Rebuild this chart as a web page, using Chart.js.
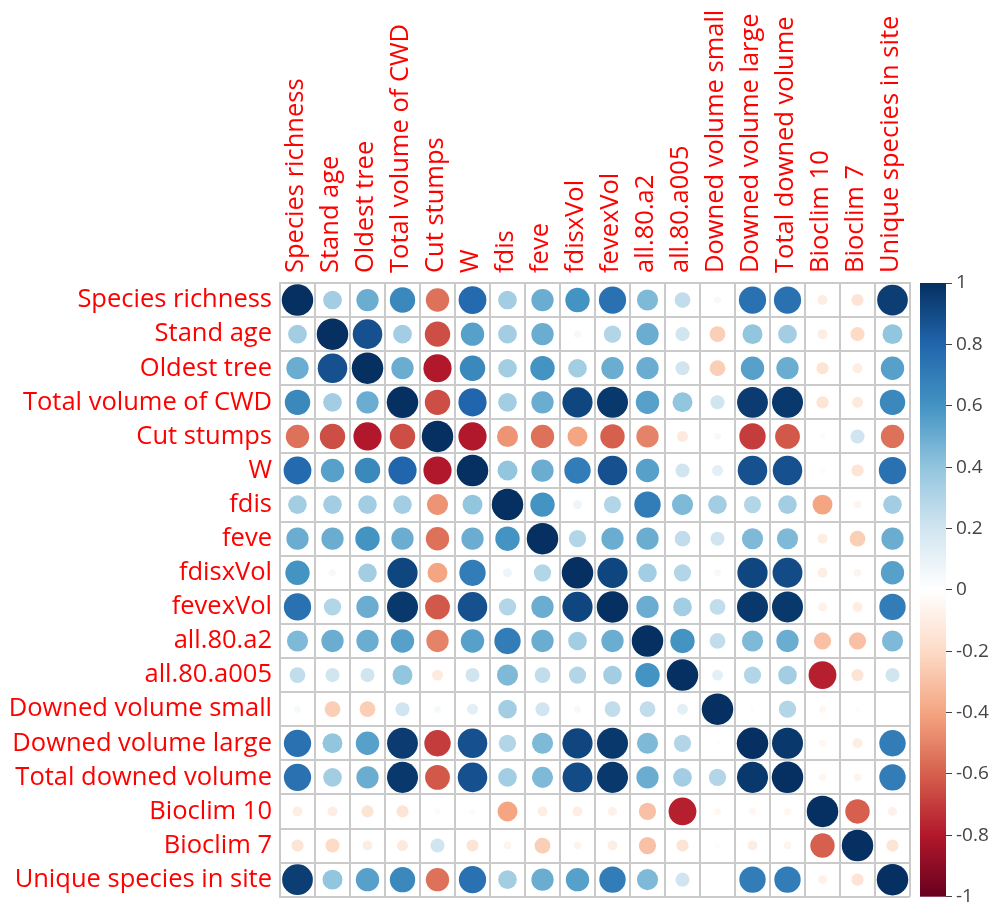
<!DOCTYPE html>
<html lang="en">
<head>
    <meta charset="UTF-8">
    <title>Correlation matrix</title>
    <script src="https://cdn.jsdelivr.net/npm/chart.js"></script>
    <style>
        body { margin: 0; background: #fff; }
        #wrap { width: 993px; height: 920px; }
    </style>
</head>
<body>
    <div id="wrap">
        <canvas id="corrChart"></canvas>
    </div>
    <script>
        // variable names (same order for rows and columns)
        const vars = ['Species richness', 'Stand age', 'Oldest tree', 'Total volume of CWD', 'Cut stumps', 'W',
            'fdis', 'feve', 'fdisxVol', 'fevexVol', 'all.80.a2', 'all.80.a005', 'Downed volume small',
            'Downed volume large', 'Total downed volume', 'Bioclim 10', 'Bioclim 7', 'Unique species in site'];

        // correlation rows
        const speciesRichness = [1, 0.35, 0.5, 0.65, -0.55, 0.78, 0.35, 0.5, 0.6, 0.75, 0.45, 0.25, 0.05, 0.75, 0.75, -0.1, -0.15, 0.95];
        const standAge = [0.35, 1, 0.88, 0.35, -0.65, 0.55, 0.35, 0.5, 0.05, 0.3, 0.5, 0.2, -0.25, 0.4, 0.35, -0.1, -0.2, 0.4];
        const oldestTree = [0.5, 0.88, 1, 0.5, -0.8, 0.65, 0.35, 0.6, 0.35, 0.5, 0.5, 0.2, -0.25, 0.55, 0.5, -0.15, -0.1, 0.55];
        const totalVolCWD = [0.65, 0.35, 0.5, 1, -0.65, 0.8, 0.35, 0.5, 0.92, 0.97, 0.55, 0.4, 0.2, 0.96, 0.97, -0.15, -0.12, 0.65];
        const cutStumps = [-0.55, -0.65, -0.8, -0.65, 1, -0.8, -0.45, -0.55, -0.4, -0.6, -0.5, -0.12, 0.05, -0.7, -0.62, -0.03, 0.2, -0.55];
        const w = [0.78, 0.55, 0.65, 0.8, -0.8, 1, 0.4, 0.5, 0.7, 0.88, 0.55, 0.2, 0.12, 0.88, 0.88, -0.03, -0.15, 0.75];
        const fdis = [0.35, 0.35, 0.35, 0.35, -0.45, 0.4, 1, 0.6, 0.08, 0.3, 0.7, 0.45, 0.35, 0.3, 0.35, -0.4, -0.06, 0.35];
        const feve = [0.5, 0.5, 0.6, 0.5, -0.55, 0.5, 0.6, 1, 0.3, 0.5, 0.5, 0.25, 0.2, 0.45, 0.45, -0.1, -0.25, 0.5];
        const fdisxVol = [0.6, 0.05, 0.35, 0.92, -0.4, 0.7, 0.08, 0.3, 1, 0.92, 0.35, 0.3, 0.05, 0.92, 0.9, -0.1, -0.06, 0.55];
        const fevexVol = [0.75, 0.3, 0.5, 0.97, -0.62, 0.88, 0.3, 0.5, 0.92, 1, 0.5, 0.35, 0.25, 0.97, 0.97, -0.08, -0.1, 0.7];
        const all80a2 = [0.45, 0.5, 0.5, 0.55, -0.5, 0.55, 0.7, 0.5, 0.35, 0.5, 1, 0.6, 0.25, 0.45, 0.5, -0.3, -0.3, 0.45];
        const all80a005 = [0.25, 0.2, 0.2, 0.4, -0.12, 0.2, 0.45, 0.25, 0.3, 0.35, 0.6, 1, 0.12, 0.3, 0.35, -0.78, -0.15, 0.2];
        const downedSmall = [0.05, -0.25, -0.25, 0.2, 0.05, 0.12, 0.35, 0.2, 0.05, 0.25, 0.25, 0.12, 1, 0.02, 0.3, -0.05, 0.02, 0.01];
        const downedLarge = [0.75, 0.4, 0.55, 0.96, -0.7, 0.88, 0.3, 0.45, 0.92, 0.97, 0.45, 0.3, 0.02, 1, 0.97, -0.05, -0.1, 0.7];
        const totalDowned = [0.75, 0.35, 0.5, 0.97, -0.62, 0.88, 0.35, 0.45, 0.9, 0.97, 0.5, 0.35, 0.3, 0.97, 1, -0.05, -0.06, 0.7];
        const bioclim10 = [-0.1, -0.1, -0.15, -0.15, -0.03, -0.03, -0.4, -0.1, -0.1, -0.08, -0.3, -0.78, -0.05, -0.05, -0.05, 1, -0.6, -0.08];
        const bioclim7 = [-0.15, -0.2, -0.1, -0.12, 0.2, -0.15, -0.06, -0.25, -0.06, -0.1, -0.3, -0.15, 0.02, -0.1, -0.06, -0.6, 1, -0.15];
        const uniqueSpecies = [0.95, 0.4, 0.55, 0.65, -0.55, 0.75, 0.35, 0.5, 0.55, 0.7, 0.45, 0.2, 0.01, 0.7, 0.7, -0.08, -0.15, 1];

        const rows = [speciesRichness, standAge, oldestTree, totalVolCWD, cutStumps, w, fdis, feve, fdisxVol,
            fevexVol, all80a2, all80a005, downedSmall, downedLarge, totalDowned, bioclim10, bioclim7, uniqueSpecies];

        // colour bar ticks
        const barTicks = [-1, -0.8, -0.6, -0.4, -0.2, 0, 0.2, 0.4, 0.6, 0.8, 1];

        // RdBu palette, -1 .. 1
        const rdbu = ['#67001F', '#B2182B', '#D6604D', '#F4A582', '#FDDBC7', '#FFFFFF',
            '#D1E5F0', '#92C5DE', '#4393C3', '#2166AC', '#053061'];

        // layout sizes (axis widths / heights)
        const CANVAS_W = 993;
        const LEFT_W = 280, TOP_H = 283, GAP_W = 36, BAR_AXIS_W = 47, BOTTOM_PAD = 7;
        const CELL = (CANVAS_W - LEFT_W - GAP_W - BAR_AXIS_W) / vars.length;

        function hexRgb(h) {
            return [parseInt(h.slice(1, 3), 16), parseInt(h.slice(3, 5), 16), parseInt(h.slice(5, 7), 16)];
        }
        function colorFor(v) {
            const t = Math.max(0, Math.min(10, (v + 1) / 2 * 10));
            const i = Math.min(9, Math.floor(t));
            const f = t - i;
            const a = hexRgb(rdbu[i]), b = hexRgb(rdbu[i + 1]);
            const c = a.map((x, k) => Math.round(x + (b[k] - x) * f));
            return 'rgb(' + c.join(',') + ')';
        }

        // bubble table: circle radius ~ sqrt(|r|) as in corrplot
        const points = [];
        const pointColors = [];
        rows.forEach((row, i) => {
            row.forEach((v, j) => {
                points.push({ x: vars[j], y: vars[i], r: CELL * 0.45 * Math.sqrt(Math.abs(v)) });
                pointColors.push(colorFor(v));
            });
        });

        // gradient bar drawn in the gap axis, positions from the cb scale
        const colorBar = {
            id: 'colorBar',
            afterDraw(chart) {
                const gap = chart.scales.gap;
                const cb = chart.scales.cb;
                const top = cb.getPixelForValue(1);
                const bottom = cb.getPixelForValue(-1);
                const left = gap.left + 10;
                const c = chart.ctx;
                const grad = c.createLinearGradient(0, bottom, 0, top);
                rdbu.forEach((col, k) => grad.addColorStop(k / (rdbu.length - 1), col));
                c.save();
                c.fillStyle = grad;
                c.fillRect(left, top, gap.right - left, bottom - top);
                c.restore();
            }
        };

        const labelFont = { family: 'Open Sans', size: 25.5 };
        const gridColor = '#cacaca';

        const chart = new Chart(document.getElementById('corrChart'), {
            type: 'bubble',
            data: {
                labels: vars,
                datasets: [{
                    xAxisID: 'x',
                    yAxisID: 'y',
                    data: points,
                    backgroundColor: pointColors,
                    borderWidth: 0
                }]
            },
            options: {
                responsive: true,
                maintainAspectRatio: false,
                animation: false,
                events: [],
                layout: { padding: { left: 0, right: 0, top: 0, bottom: BOTTOM_PAD } },
                plugins: { legend: { display: false }, tooltip: { enabled: false } },
                scales: {
                    x: {
                        type: 'category',
                        position: 'top',
                        offset: true,
                        grid: { offset: true, color: gridColor, lineWidth: 2, drawTicks: false },
                        border: { color: gridColor, width: 2 },
                        ticks: {
                            color: 'red', font: labelFont, autoSkip: false,
                            minRotation: 90, maxRotation: 90, padding: 10, labelOffset: 29
                        },
                        afterFit: s => { s.height = TOP_H; }
                    },
                    y: {
                        type: 'category',
                        labels: vars,
                        position: 'left',
                        offset: true,
                        grid: { offset: true, color: gridColor, lineWidth: 2, drawTicks: false },
                        border: { color: gridColor, width: 2 },
                        ticks: { color: 'red', font: labelFont, autoSkip: false, padding: 8 },
                        afterFit: s => { s.width = LEFT_W; }
                    },
                    gap: {
                        axis: 'y',
                        type: 'linear',
                        position: 'right',
                        weight: 0,
                        min: 0,
                        max: 1,
                        grid: { display: false },
                        border: { display: false },
                        ticks: { display: false },
                        afterFit: s => { s.width = GAP_W; }
                    },
                    cb: {
                        axis: 'y',
                        type: 'linear',
                        position: 'right',
                        weight: 10,
                        min: -1,
                        max: 1,
                        afterBuildTicks: s => { s.ticks = barTicks.map(v => ({ value: v })); },
                        grid: { drawOnChartArea: false, drawTicks: true, tickLength: 6, color: '#444', lineWidth: 1 },
                        border: { display: false },
                        ticks: {
                            color: '#444', font: { family: 'Open Sans', size: 19 }, padding: 4,
                            callback: v => String(Math.round(v * 10) / 10)
                        },
                        afterFit: s => { s.width = BAR_AXIS_W; }
                    }
                }
            },
            plugins: [colorBar]
        });
    </script>
</body>
</html>
